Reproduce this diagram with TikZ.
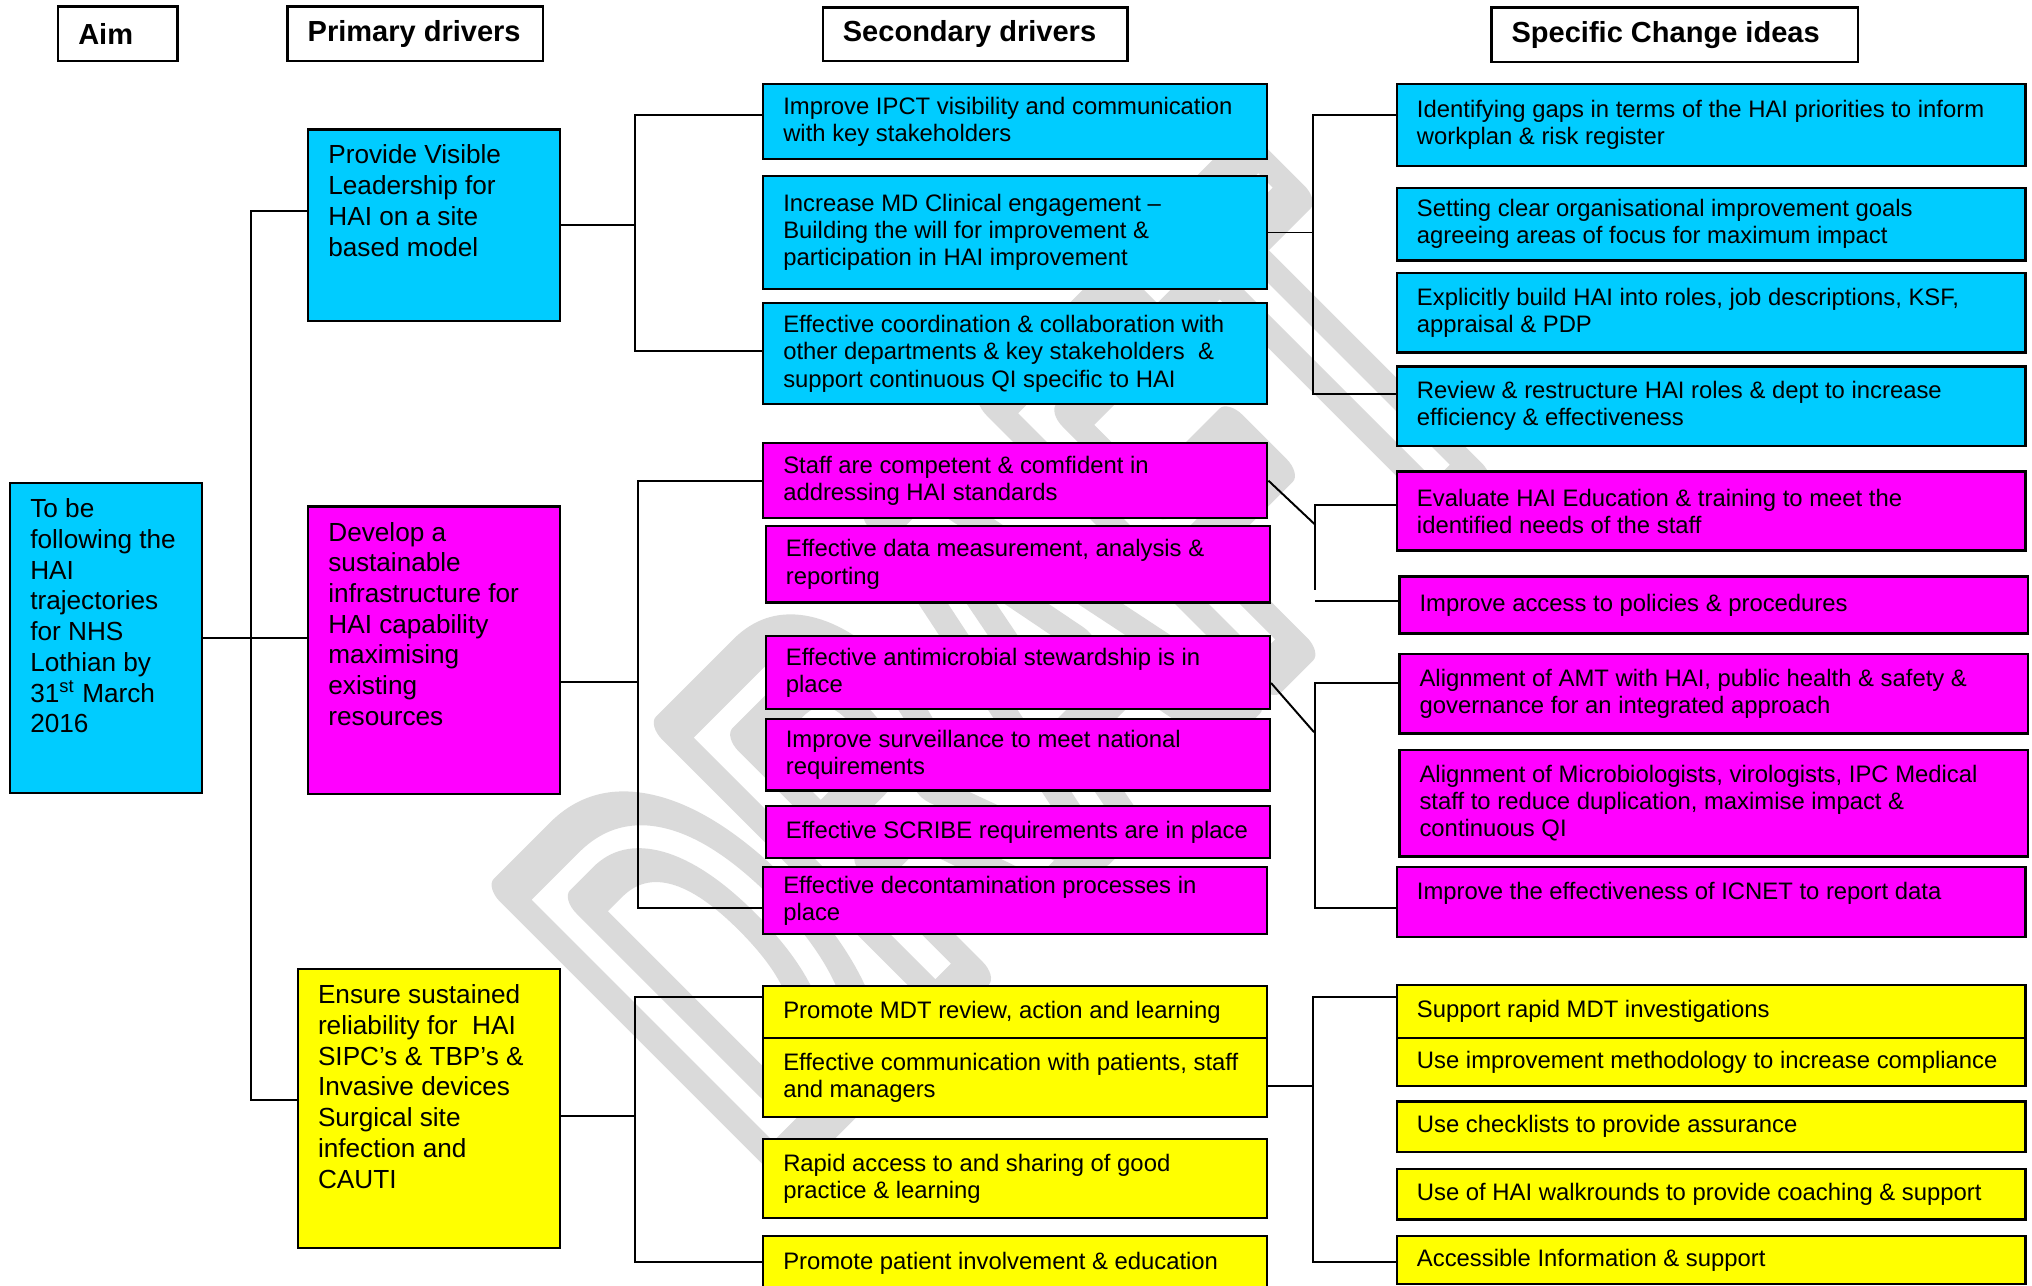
\documentclass[tikz,border=0pt]{standalone}
\usepackage{fontspec}
\usepackage{graphicx}
\setmainfont{Liberation Sans}
\definecolor{drvcyan}{HTML}{00CCFF}
\definecolor{drvmag}{HTML}{FF00FF}
\definecolor{drvyel}{HTML}{FFFF00}
\definecolor{wmgray}{HTML}{DADADA}
% box text: height, width, lines (centred / top)
\newcommand{\bxc}[3]{\parbox[c][#1][c]{#2}{\raggedright\leftskip=7.75pt\relax #3}}
\newcommand{\bxt}[3]{\parbox[c][#1][t]{#2}{\vspace*{6pt}\raggedright\leftskip=7.75pt\relax #3}}

\begin{document}
\begin{tikzpicture}[x=0.5pt,y=-0.5pt,
  drv/.style={draw,line width=0.9pt,inner sep=0pt,anchor=north west},
  sec/.style={drv,font=\fontsize{9.2pt}{10.5pt}\selectfont},
  prim/.style={drv,font=\fontsize{10.1pt}{11.85pt}\selectfont},
  hdr/.style={drv,fill=white,font=\fontsize{11.2pt}{13pt}\selectfont\bfseries},
  conn/.style={line width=0.75pt}]
  \useasboundingbox (0,0) rectangle (1568,992);

  % watermark, outlined letters
  \node[rotate=45,text=wmgray,inner sep=0pt] (wm) at (779,512)
    {\special{pdf:literal direct 1 Tr 16 w 1 j}\scalebox{0.57}[1]{\fontsize{215pt}{215pt}\selectfont\bfseries DRAFT}\special{pdf:literal direct 0 Tr 0 j}};

  % column headings
  \node[hdr] (hAim)  at (44,4)    {\bxc{21pt}{46pt}{Aim}};
  \node[hdr] (hPrim) at (221,4)   {\bxc{21pt}{98.5pt}{Primary drivers}};
  \node[hdr] (hSec)  at (634,5)   {\bxc{20.5pt}{117.5pt}{Secondary drivers}};
  \node[hdr] (hChg)  at (1150,5)  {\bxc{21pt}{141.5pt}{Specific Change ideas}};

  % aim and primary drivers
  \node[prim,fill=drvcyan] (aim) at (7,372) {\bxt{119.5pt}{74pt}{To be\\following the\\HAI\\trajectories\\for NHS\\Lothian by\\31\textsuperscript{st} March\\2016}};
  \node[prim,fill=drvcyan] (p1) at (237,99) {\bxt{74pt}{97pt}{Provide Visible\\Leadership for\\HAI on a site\\based model}};
  \node[prim,fill=drvmag] (p2) at (237,390) {\bxt{111pt}{97pt}{Develop a\\sustainable\\infrastructure for\\HAI capability\\maximising\\existing\\resources}};
  \node[prim,fill=drvyel] (p3) at (229,747) {\bxt{107.5pt}{101pt}{Ensure sustained\\reliability for~ HAI\\SIPC’s \& TBP’s \&\\Invasive devices\\Surgical site\\infection and\\CAUTI}};

  % secondary drivers
  \node[sec,fill=drvcyan] (s1) at (588,64)  {\bxc{29pt}{194.5pt}{Improve IPCT visibility and communication\\with key stakeholders}};
  \node[sec,fill=drvcyan] (s2) at (588,135) {\bxc{43.5pt}{194.5pt}{Increase MD Clinical engagement –\\Building the will for improvement \&\\participation in HAI improvement}};
  \node[sec,fill=drvcyan] (s3) at (588,233) {\bxc{39pt}{194.5pt}{Effective coordination \& collaboration with\\other departments \& key stakeholders~ \&\\support continuous QI specific to HAI}};
  \node[sec,fill=drvmag] (s4) at (588,341) {\bxc{29pt}{194.5pt}{Staff are competent \& comfident in\\addressing HAI standards}};
  \node[sec,fill=drvmag] (s5) at (590,405) {\bxc{29.5pt}{194.5pt}{Effective data measurement, analysis \&\\reporting}};
  \node[sec,fill=drvmag] (s6) at (590,490) {\bxc{28pt}{194.5pt}{Effective antimicrobial stewardship is in\\place}};
  \node[sec,fill=drvmag] (s7) at (590,554) {\bxc{27.5pt}{194.5pt}{Improve surveillance to meet national\\requirements}};
  \node[sec,fill=drvmag] (s8) at (590,621) {\bxc{20pt}{194.5pt}{Effective SCRIBE requirements are in place}};
  \node[sec,fill=drvmag] (s9) at (588,668) {\bxc{26pt}{194.5pt}{Effective decontamination processes in\\place}};
  \node[sec,fill=drvyel] (s10) at (588,760) {\bxc{20pt}{194.5pt}{Promote MDT review, action and learning}};
  \node[sec,fill=drvyel] (s11) at (588,800) {\bxc{30.5pt}{194.5pt}{Effective communication with patients, staff\\and managers}};
  \node[sec,fill=drvyel] (s12) at (588,878) {\bxc{30.5pt}{194.5pt}{Rapid access to and sharing of good\\practice \& learning}};
  \node[sec,fill=drvyel] (s13) at (588,953) {\bxt{26pt}{194.5pt}{Promote patient involvement \& education}};

  % change ideas
  \node[sec,fill=drvcyan] (c1) at (1077,64)  {\bxc{31.5pt}{242.5pt}{Identifying gaps in terms of the HAI priorities to inform\\workplan \& risk register}};
  \node[sec,fill=drvcyan] (c2) at (1077,144) {\bxc{28pt}{242.5pt}{Setting clear organisational improvement goals\\agreeing areas of focus for maximum impact}};
  \node[sec,fill=drvcyan] (c3) at (1077,210) {\bxc{30.5pt}{242.5pt}{Explicitly build HAI into roles, job descriptions, KSF,\\appraisal \& PDP}};
  \node[sec,fill=drvcyan] (c4) at (1077,282) {\bxc{30.5pt}{242.5pt}{Review \& restructure HAI roles \& dept to increase\\efficiency \& effectiveness}};
  \node[sec,fill=drvmag] (c5) at (1077,363) {\bxc{30.5pt}{242.5pt}{Evaluate HAI Education \& training to meet the\\identified needs of the staff}};
  \node[sec,fill=drvmag] (c6) at (1079,444) {\bxc{22pt}{242.5pt}{Improve access to policies \& procedures}};
  \node[sec,fill=drvmag] (c7) at (1079,504) {\bxc{30.5pt}{242.5pt}{Alignment of AMT with HAI, public health \& safety \&\\governance for an integrated approach}};
  \node[sec,fill=drvmag] (c8) at (1079,578) {\bxc{41pt}{242.5pt}{Alignment of Microbiologists, virologists, IPC Medical\\staff to reduce duplication, maximise impact \&\\continuous QI}};
  \node[sec,fill=drvmag] (c9) at (1077,668) {\bxt{27pt}{242.5pt}{Improve the effectiveness of ICNET to report data}};
  \foreach \n/\y/\h/\t in {10/759/20.5pt/{Support rapid MDT investigations},
      11/800/18.5pt/{Use improvement methodology to increase compliance},
      12/849/19.5pt/{Use checklists to provide assurance},
      13/901/19.5pt/{Use of HAI walkrounds to provide coaching \& support},
      14/953/18.5pt/{Accessible Information \& support}}
    \node[sec,fill=drvyel] (c\n) at (1077,\y) {\bxc{\h}{242.5pt}{\t}};

  % aim -> primary drivers
  \coordinate (pb1) at (194,163);
  \coordinate (pb2) at (194,849);
  \draw[conn] (aim.east) -- (aim.east -| p2.west);
  \draw[conn] (pb1 -| p1.west) -- (pb1) -- (pb2) -- (pb2 -| p3.west);

  % primary -> secondary
  \coordinate (sb1) at (490,89);
  \coordinate (sb2) at (490,271);
  \draw[conn] (p1.east) -- (p1.east -| sb1);
  \draw[conn] (sb1 -| s1.west) -- (sb1) -- (sb2) -- (sb2 -| s3.west);
  \coordinate (j2) at (492,526);
  \coordinate (sb3) at (492,371);
  \coordinate (sb4) at (492,701);
  \draw[conn] (j2 -| p2.east) -- (j2);
  \draw[conn] (sb3 -| s4.west) -- (sb3) -- (sb4) -- (sb4 -| s9.west);
  \coordinate (j3) at (490,861);
  \coordinate (sb5) at (490,769);
  \coordinate (sb6) at (490,974);
  \draw[conn] (j3 -| p3.east) -- (j3);
  \draw[conn] (sb5 -| s10.west) -- (sb5) -- (sb6) -- (sb6 -| s13.west);

  % secondary -> change ideas
  \coordinate (cb1) at (1013,89);
  \coordinate (cb2) at (1013,304);
  \draw[conn] (s2.east) -- (s2.east -| cb1);
  \draw[conn] (cb1 -| c1.west) -- (cb1) -- (cb2) -- (cb2 -| c4.west);
  \coordinate (k1) at (1015,405);
  \coordinate (cb3) at (1015,390);
  \coordinate (cb4) at (1015,455);
  \coordinate (cb5) at (1015,464);
  \draw[conn] (s4.east) -- (k1);
  \draw[conn] (cb3 -| c5.west) -- (cb3) -- (cb4);
  \draw[conn] (cb5) -- (cb5 -| c6.west);
  \coordinate (k2a) at (979,527);
  \coordinate (k2) at (1014,565);
  \coordinate (cb6) at (1015,527);
  \coordinate (cb7) at (1015,701);
  \draw[conn] (s6.east |- k2a) -- (k2);
  \draw[conn] (cb6 -| c7.west) -- (cb6) -- (cb7) -- (cb7 -| c9.west);
  \coordinate (j4) at (1013,838);
  \coordinate (cb8) at (1013,769);
  \coordinate (cb9) at (1013,974);
  \draw[conn] (j4 -| s11.east) -- (j4);
  \draw[conn] (cb8 -| c10.west) -- (cb8) -- (cb9) -- (cb9 -| c14.west);
\end{tikzpicture}
\end{document}
